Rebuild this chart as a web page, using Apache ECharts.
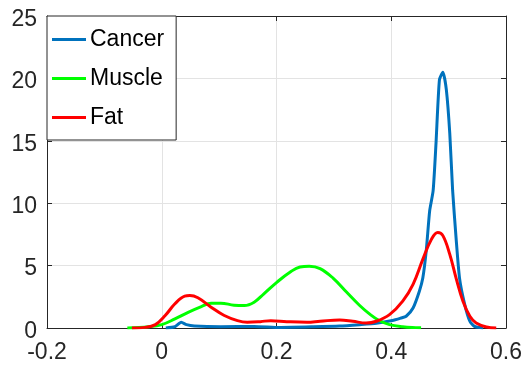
<!DOCTYPE html>
<html>
<head>
<meta charset="utf-8">
<script src="https://cdn.jsdelivr.net/npm/echarts@6/dist/echarts.min.js"></script>
<style>html,body{margin:0;padding:0;background:#fff}#c{width:529px;height:369px}</style>
</head>
<body>
<div id="c"></div>
<script>
const seriesNames = ['Cancer', 'Muscle', 'Fat'];
const xTickLabels = ['-0.2', '0', '0.2', '0.4', '0.6'];
const yTickLabels = ['0', '5', '10', '15', '20', '25'];

const cancerX = [0.007, 0.023, 0.034, 0.043, 0.057, 0.103, 0.161, 0.207, 0.264, 0.310, 0.345, 0.374, 0.402, 0.417, 0.426, 0.438, 0.449, 0.455, 0.461, 0.467, 0.473, 0.478, 0.484, 0.490, 0.496, 0.502, 0.507, 0.513, 0.519, 0.528, 0.537, 0.545, 0.560];
const cancerY = [0, 0.1, 0.46, 0.27, 0.16, 0.1, 0.13, 0.05, 0.1, 0.16, 0.27, 0.38, 0.6, 0.8, 0.94, 1.6, 2.95, 4.0, 6.2, 9.4, 11, 14.8, 19.9, 20.5, 19.1, 15.6, 11, 7.2, 4.0, 1.9, 0.54, 0.13, 0];

const muscleX = [-0.060, -0.023, 0, 0.023, 0.046, 0.069, 0.086, 0.103, 0.126, 0.144, 0.161, 0.178, 0.201, 0.224, 0.241, 0.257, 0.276, 0.299, 0.322, 0.345, 0.362, 0.379, 0.397, 0.420, 0.443, 0.452];
const muscleY = [0, 0.1, 0.27, 0.73, 1.26, 1.72, 1.99, 1.99, 1.83, 1.8, 2.07, 2.74, 3.68, 4.49, 4.89, 4.95, 4.76, 3.98, 2.88, 1.8, 1.13, 0.6, 0.27, 0.1, 0.03, 0.02];

const fatX = [-0.052, -0.029, -0.011, 0.006, 0.023, 0.040, 0.049, 0.063, 0.086, 0.109, 0.132, 0.149, 0.172, 0.190, 0.218, 0.253, 0.276, 0.310, 0.333, 0.356, 0.374, 0.397, 0.420, 0.438, 0.455, 0.470, 0.481, 0.490, 0.502, 0.513, 0.525, 0.537, 0.548, 0.566, 0.583];
const fatY = [0, 0.05, 0.27, 1.0, 1.94, 2.55, 2.6, 2.42, 1.67, 1.0, 0.59, 0.46, 0.51, 0.59, 0.51, 0.46, 0.54, 0.65, 0.54, 0.4, 0.54, 1.07, 2.15, 3.5, 5.5, 7.1, 7.65, 7.4, 5.9, 4.0, 2.15, 0.94, 0.4, 0.08, 0];

const zip = (xs, ys) => xs.map((x, i) => [x, ys[i]]);
const colors = ['#0072BD', '#00FF00', '#FF0000'];
const FONT = '"Liberation Sans", Arial, sans-serif';
const AX = '#262626';

function xFmt(v) {
  const i = Math.round((v + 0.2) / 0.2);
  return xTickLabels[i] !== undefined ? xTickLabels[i] : '';
}
function yFmt(v) {
  const i = Math.round(v / 5);
  return yTickLabels[i] !== undefined ? '{a|' + yTickLabels[i] + '}' : '';
}

const chart = echarts.init(document.getElementById('c'), null, {renderer: 'canvas'});
chart.setOption({
  animation: false,
  backgroundColor: '#fff',
  grid: {left: 47, right: 23, top: 16, bottom: 41, containLabel: false},
  legend: {
    orient: 'vertical',
    left: 47, top: 16,
    data: seriesNames,
    backgroundColor: '#fff',
    borderColor: AX, borderWidth: 1,
    padding: [12, 12, 11, 5],
    itemWidth: 34, itemHeight: 3, itemGap: 16,
    icon: 'rect',
    textStyle: {fontFamily: FONT, fontSize: 23, color: '#000', padding: [0, 0, 0, -1]}
  },
  xAxis: [{
    type: 'value', min: -0.2, max: 0.6, interval: 0.2,
    axisLine: {show: true, onZero: false, lineStyle: {color: AX, width: 1}},
    axisTick: {show: true, inside: true, length: 5, lineStyle: {color: AX}},
    axisLabel: {formatter: xFmt, fontFamily: FONT, fontSize: 23, color: AX, margin: 13},
    splitLine: {show: true, lineStyle: {color: '#e3e3e3', width: 1}}
  }, {
    type: 'value', position: 'top', min: -0.2, max: 0.6, interval: 0.2,
    axisLine: {show: true, onZero: false, lineStyle: {color: AX, width: 1}},
    axisTick: {show: true, inside: true, length: 5, lineStyle: {color: AX}},
    axisLabel: {show: false}, splitLine: {show: false}
  }],
  yAxis: [{
    type: 'value', min: 0, max: 25, interval: 5,
    axisLine: {show: true, onZero: false, lineStyle: {color: AX, width: 1}},
    axisTick: {show: true, inside: true, length: 5, lineStyle: {color: AX}},
    axisLabel: {formatter: yFmt, fontFamily: FONT, fontSize: 23, color: AX, margin: 10,
      rich: {a: {fontFamily: FONT, fontSize: 23, color: AX, padding: [7, 0, 0, 0]}}},
    splitLine: {show: true, lineStyle: {color: '#e3e3e3', width: 1}}
  }, {
    type: 'value', position: 'right', min: 0, max: 25, interval: 5,
    axisLine: {show: true, onZero: false, lineStyle: {color: AX, width: 1}},
    axisTick: {show: true, inside: true, length: 5, lineStyle: {color: AX}},
    axisLabel: {show: false}, splitLine: {show: false}
  }],
  series: [
    {name: seriesNames[0], type: 'line', data: zip(cancerX, cancerY), showSymbol: false, smooth: 0.2,
     lineStyle: {color: colors[0], width: 3}, itemStyle: {color: colors[0]}},
    {name: seriesNames[1], type: 'line', data: zip(muscleX, muscleY), showSymbol: false, smooth: 0.4,
     lineStyle: {color: colors[1], width: 3}, itemStyle: {color: colors[1]}},
    {name: seriesNames[2], type: 'line', data: zip(fatX, fatY), showSymbol: false, smooth: 0.4,
     lineStyle: {color: colors[2], width: 3}, itemStyle: {color: colors[2]}}
  ]
});
</script>
</body>
</html>
